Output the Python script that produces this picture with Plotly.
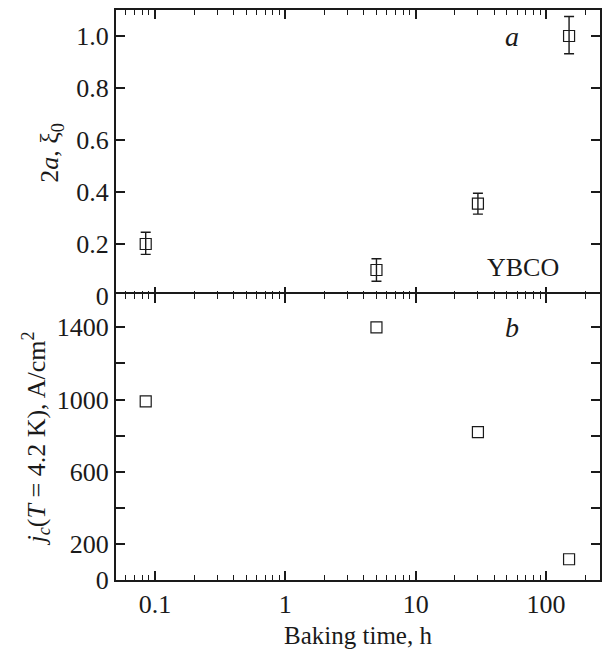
import plotly.graph_objects as go
import numpy as np

# Data
baking_time = [0.085, 5, 30, 150]
size_a = [0.20, 0.10, 0.355, 1.00]
size_err_plus = [0.045, 0.043, 0.04, 0.075]
size_err_minus = [0.04, 0.043, 0.04, 0.068]
jc_values = [990, 1400, 820, 115]

top_ticks = [0, 0.2, 0.4, 0.6, 0.8, 1.0]
top_ticktext = ["0", "0.2", "0.4", "0.6", "0.8", "1.0"]
bot_ticks = [0, 200, 400, 600, 800, 1000, 1200, 1400]
bot_ticktext = ["0", "200", "", "600", "", "1000", "", "1400"]
x_ticks = [0.1, 1, 10, 100]
x_ticktext = ["0.1", "1", "10", "100"]

FONT = "Liberation Serif, Times New Roman, serif"
INK = "#1a1a1a"

fig = go.Figure()

fig.add_trace(go.Scatter(
    x=baking_time, y=size_a, mode="markers",
    marker=dict(symbol="square-open", size=11, color=INK, line=dict(width=1.2)),
    error_y=dict(type="data", symmetric=False, array=size_err_plus, arrayminus=size_err_minus,
                 color=INK, thickness=1.4, width=5),
    xaxis="x", yaxis="y", showlegend=False))

fig.add_trace(go.Scatter(
    x=baking_time, y=jc_values, mode="markers",
    marker=dict(symbol="square-open", size=11, color=INK, line=dict(width=1.2)),
    xaxis="x2", yaxis="y2", showlegend=False))

xrange = [np.log10(0.0503), np.log10(259)]
common_x = dict(type="log", range=xrange, showline=True, linewidth=2, linecolor=INK,
                mirror="ticks", ticks="inside", ticklen=9, tickwidth=1.5, tickcolor=INK,
                showgrid=False, zeroline=False,
                minor=dict(ticks="inside", ticklen=5, tickwidth=1.2, tickcolor=INK,
                           dtick="D1", showgrid=False),
                tickvals=x_ticks, ticktext=x_ticktext,
                tickfont=dict(family=FONT, size=26, color=INK))

common_y = dict(showline=True, linewidth=2, linecolor=INK, mirror="ticks",
                ticks="inside", ticklen=9, tickwidth=1.5, tickcolor=INK,
                showgrid=False, zeroline=False,
                tickfont=dict(family=FONT, size=26, color=INK))

px = 1.0 / 570
fig.update_layout(
    width=607, height=654,
    margin=dict(l=116, r=5, t=10, b=74),
    paper_bgcolor="white", plot_bgcolor="white",
    font=dict(family=FONT, size=26, color=INK),
    xaxis=dict(**common_x, anchor="y", showticklabels=False),
    yaxis=dict(**common_y, domain=[0.5 - px, 1], range=[0, 1.1],
               tickvals=top_ticks, ticktext=top_ticktext,
               title=dict(text="2<i>a</i>, ξ<sub>0</sub>", font=dict(family=FONT, size=26), standoff=10)),
    xaxis2=dict(**common_x, anchor="y2",
                title=dict(text="Baking time, h", font=dict(family=FONT, size=25), standoff=8)),
    yaxis2=dict(**common_y, domain=[0, 0.5 + px], range=[0, 1585],
                tickvals=bot_ticks, ticktext=bot_ticktext,
                title=dict(text="<i>j<sub>c</sub></i>(<i>T</i> = 4.2 K), A/cm<sup>2</sup>",
                           font=dict(family=FONT, size=26), standoff=4)),
    annotations=[
        dict(text="<i>a</i>", x=np.log10(55), y=1.0, xref="x", yref="y", showarrow=False,
             font=dict(family=FONT, size=28, color=INK)),
        dict(text="YBCO", x=np.log10(66), y=0.11, xref="x", yref="y", showarrow=False,
             font=dict(family=FONT, size=26, color=INK)),
        dict(text="<i>b</i>", x=np.log10(55), y=1400, xref="x2", yref="y2", showarrow=False,
             font=dict(family=FONT, size=28, color=INK)),
    ],
)

fig.write_html("out.html")
